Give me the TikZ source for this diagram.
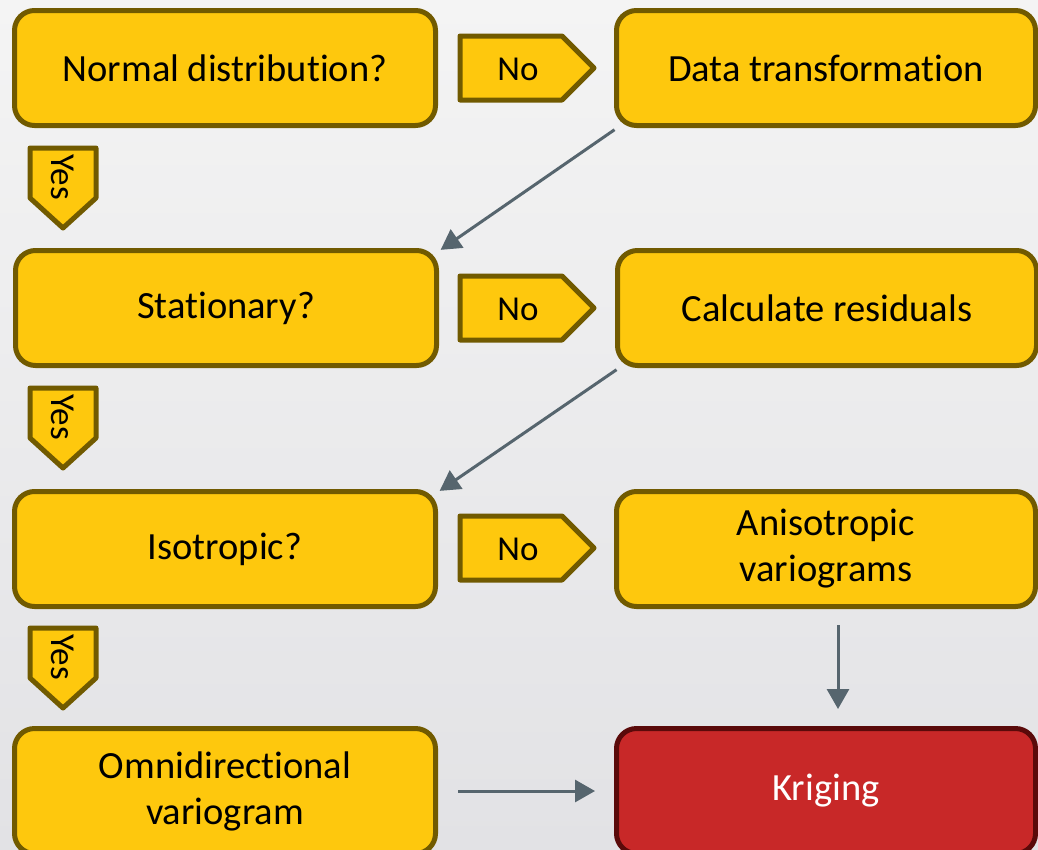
\documentclass[tikz,border=0pt]{standalone}
\usepackage{fontspec}
\setmainfont{Carlito}[Ligatures=NoCommon]
\usetikzlibrary{arrows.meta}
\newcommand{\tiNL}{t\kern0pt i}
\definecolor{boxyellow}{HTML}{FEC80D}
\definecolor{boxborder}{HTML}{715A00}
\definecolor{krigred}{HTML}{C82828}
\definecolor{krigborder}{HTML}{5A0A0A}
\definecolor{arrowgray}{HTML}{56656E}
\definecolor{bgtop}{HTML}{F4F4F4}
\definecolor{bgbottom}{HTML}{E2E2E5}
\tikzset{
  stepbox/.style={draw=boxborder, fill=boxyellow, line width=5pt, rounded corners=20pt,
    minimum height=115pt, align=center, font=\fontsize{38.5}{46}\selectfont, text=black, inner sep=0pt},
  leftbox/.style={stepbox, minimum width=421pt},
  rightbox/.style={stepbox, minimum width=419pt},
  tagshape/.style={draw=boxborder, fill=boxyellow, line width=5pt, line join=round},
  taglabel/.style={font=\fontsize{35}{40}\selectfont, text=black, inner sep=0pt},
  conn/.style={draw=arrowgray, line width=3pt, -{Triangle[length=20pt,width=22pt]}},
}
\begin{document}
\begin{tikzpicture}[x=1pt,y=-1pt]
\shade[top color=bgtop, bottom color=bgbottom] (0,0) rectangle (1038,849);
\useasboundingbox (0,0) rectangle (1038,849);

% main boxes
\node[leftbox] (nd) at (225,68) {Normal distribu\tiNL on?};
\node[rightbox] (dt) at (826,68) {Data transforma\tiNL on};
\node[leftbox] (st) at (226,308) {Sta\tiNL onary?};
\node[rightbox] (cr) at (827,308) {Calculate residuals};
\node[leftbox] (iso) at (225,549) {Isotropic?};
\node[rightbox] (an) at (826,549) {Anisotropic\\variograms};
\node[leftbox, minimum height=125pt] (om) at (225,791) {Omnidirec\tiNL onal\\variogram};
\node[rightbox, minimum height=125pt, fill=krigred, draw=krigborder, text=white] (kr) at (826,791) {Kriging};

% No tags
\foreach \r/\n in {0/1,240/2,480/3}{
  \draw[tagshape] (460,36+\r) -- (562,36+\r) -- (594,68+\r) -- (562,100+\r) -- (460,100+\r) -- cycle;
  \node[taglabel] (no\n) at (518,69+\r) {No};
}
% Yes tags
\foreach \r/\n in {0/1,240/2,480/3}{
  \draw[tagshape] (30,148+\r) -- (96,148+\r) -- (96,198+\r) -- (63,228+\r) -- (30,198+\r) -- cycle;
  \node[taglabel, rotate=-90] (yes\n) at (63,177+\r) {Yes};
}

% connectors
\draw[conn, shorten <=3pt, shorten >=2pt] ([xshift=3pt]dt.south west) -- ([yshift=-3pt]st.north east);
\draw[conn, shorten <=3pt, shorten >=2pt] ([xshift=4pt]cr.south west) -- ([yshift=-3pt]iso.north east);
\draw[conn, shorten <=16pt, shorten >=19pt] ([xshift=12pt]an.south) -- ([xshift=12pt,yshift=-2pt]kr.north);
\draw[conn, shorten <=20pt, shorten >=19pt] (om.east) -- (kr.west);
\end{tikzpicture}
\end{document}
